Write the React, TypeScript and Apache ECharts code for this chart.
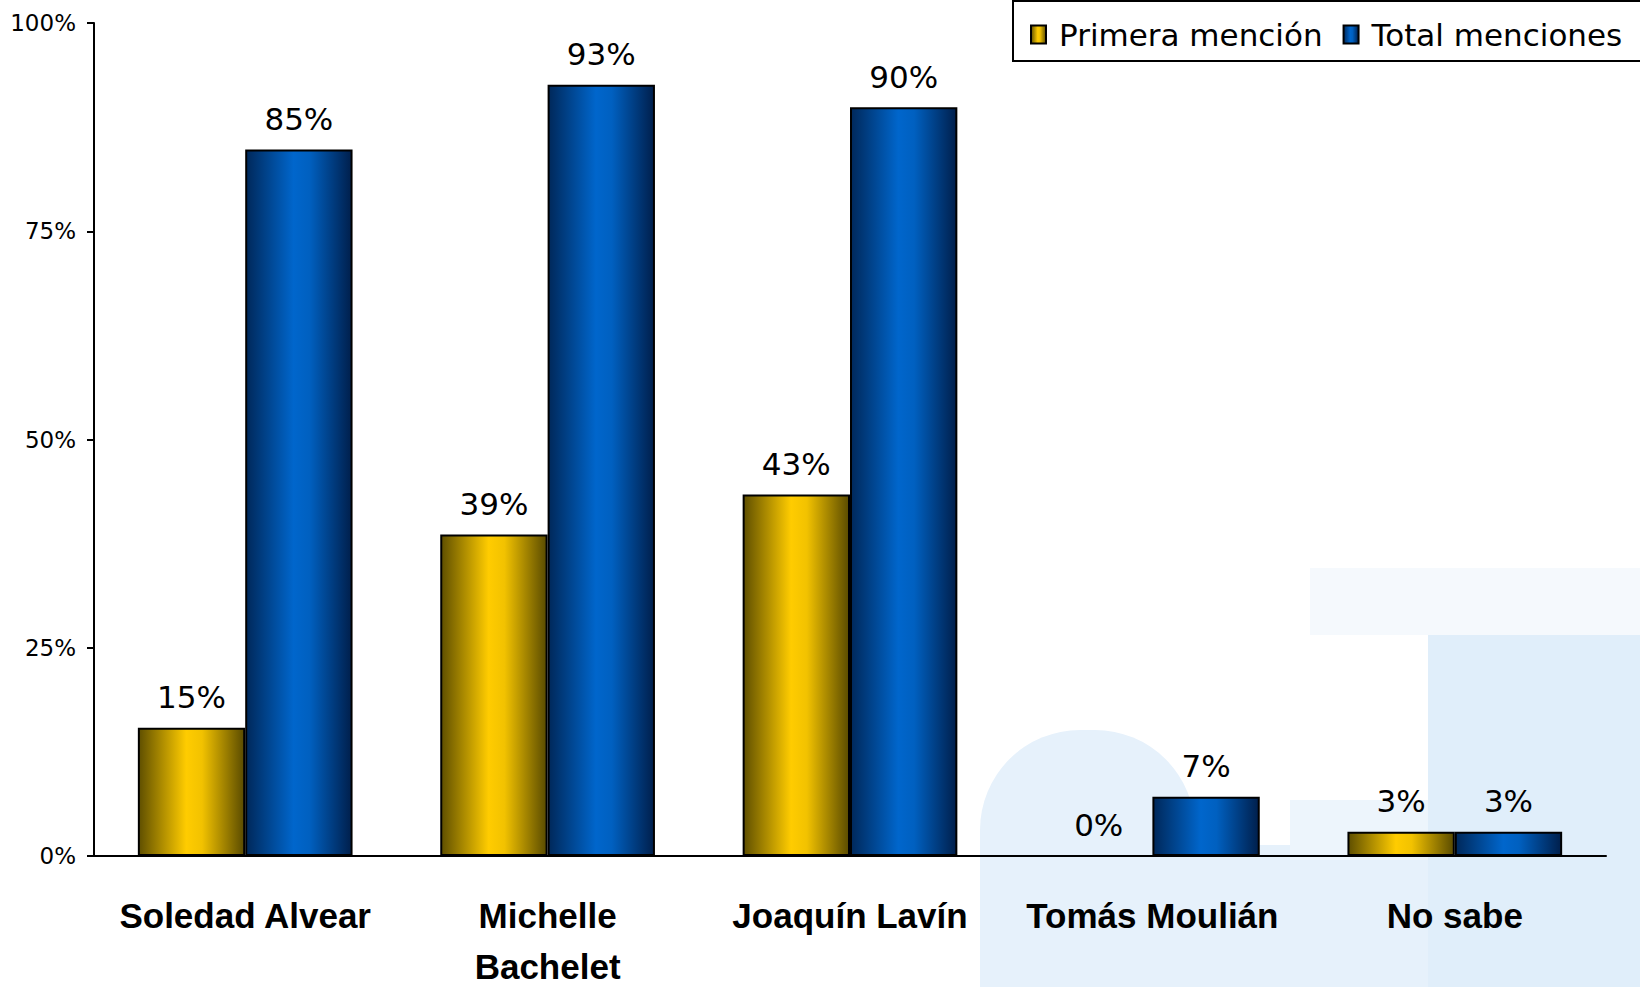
import React, { useEffect, useRef } from "react";
import * as echarts from "echarts";

const categories = ["Soledad Alvear", "Michelle Bachelet", "Joaquín Lavín", "Tomás Moulián", "No sabe"];
const primeraMencion = [15.4, 38.6, 43.4, 0, 2.9];
const totalMenciones = [84.8, 92.6, 89.9, 7.1, 2.9];
const seriesNames = ["Primera mención", "Total menciones"];
const yTicks = { min: 0, max: 100, interval: 25 };

const yellowGrad = new echarts.graphic.LinearGradient(0, 0, 1, 0, [
  { offset: 0, color: "#5f4f00" },
  { offset: 0.45, color: "#ffcc00" },
  { offset: 0.6, color: "#f2c200" },
  { offset: 1, color: "#5a4b00" },
]);
const blueGrad = new echarts.graphic.LinearGradient(0, 0, 1, 0, [
  { offset: 0, color: "#00285a" },
  { offset: 0.45, color: "#0066cc" },
  { offset: 0.6, color: "#0060c0" },
  { offset: 1, color: "#001f4c" },
]);

export default function App() {
  const ref = useRef<HTMLDivElement>(null);
  useEffect(() => {
    document.body.style.margin = "0";
    const chart = echarts.init(ref.current!, null, { renderer: "svg" });
    const labelCfg = {
      show: true,
      position: "top",
      distance: 15,
      color: "#000",
      fontFamily: "DejaVu Sans",
      fontSize: 31,
      formatter: (p: any) => Math.round(p.value) + "%",
    };
    const wm = "#e6f1fb";
    chart.setOption({
      animation: false,
      backgroundColor: "#ffffff",
      grid: { left: 94, right: 34, top: 23, bottom: 131, containLabel: false, outerBoundsMode: "none" },
      legend: {
        data: seriesNames,
        left: 1025,
        top: 14,
        itemWidth: 15,
        itemHeight: 18,
        itemGap: 20,
        icon: "rect",
        textStyle: { fontFamily: "DejaVu Sans", fontSize: 31, color: "#000", padding: [0, 0, 0, 8] },
      },
      graphic: [
        { type: "rect", z: -10, silent: true, shape: { x: 980, y: 730, width: 215, height: 257, r: [100, 100, 0, 0] }, style: { fill: wm } },
        { type: "rect", z: -10, silent: true, shape: { x: 980, y: 845, width: 660, height: 142 }, style: { fill: wm } },
        { type: "rect", z: -10, silent: true, shape: { x: 1290, y: 800, width: 150, height: 60 }, style: { fill: "#edf5fc" } },
        { type: "rect", z: -10, silent: true, shape: { x: 1428, y: 635, width: 212, height: 352 }, style: { fill: "#e0eefa" } },
        { type: "rect", z: -10, silent: true, shape: { x: 1310, y: 568, width: 330, height: 67 }, style: { fill: "#f5f9fd" } },
        { type: "rect", z: 10, silent: true, shape: { x: 1013, y: 1, width: 640, height: 60 }, style: { fill: "transparent", stroke: "#000", lineWidth: 2 } },
      ],
      xAxis: {
        type: "category",
        data: categories,
        axisLine: { lineStyle: { color: "#000", width: 2 } },
        axisTick: { length: 13, lineStyle: { color: "#000", width: 2 } },
        axisLabel: {
          color: "#000",
          fontFamily: "Liberation Sans",
          fontWeight: "bold",
          fontSize: 35,
          lineHeight: 51,
          margin: 34,
          interval: 0,
          formatter: (v: string) => (v.length > 15 ? v.replace(" ", "\n") : v),
        },
      },
      yAxis: {
        type: "value",
        min: yTicks.min,
        max: yTicks.max,
        interval: yTicks.interval,
        splitLine: { show: false },
        axisLine: { show: true, lineStyle: { color: "#000", width: 2 } },
        axisTick: { show: true, length: 7, lineStyle: { color: "#000", width: 2 } },
        axisLabel: {
          color: "#000",
          fontFamily: "DejaVu Sans",
          fontSize: 23,
          margin: 18,
          formatter: "{value}%",
        },
      },
      series: [
        {
          name: seriesNames[0],
          type: "bar",
          data: primeraMencion,
          barGap: "0%",
          barCategoryGap: "29%",
          itemStyle: { color: yellowGrad, borderColor: "#000", borderWidth: 2 },
          label: labelCfg,
        },
        {
          name: seriesNames[1],
          type: "bar",
          data: totalMenciones,
          barGap: "0%",
          barCategoryGap: "29%",
          itemStyle: { color: blueGrad, borderColor: "#000", borderWidth: 2 },
          label: labelCfg,
        },
      ],
    });
    return () => chart.dispose();
  }, []);
  return <div ref={ref} style={{ width: 1640, height: 987 }} />;
}
